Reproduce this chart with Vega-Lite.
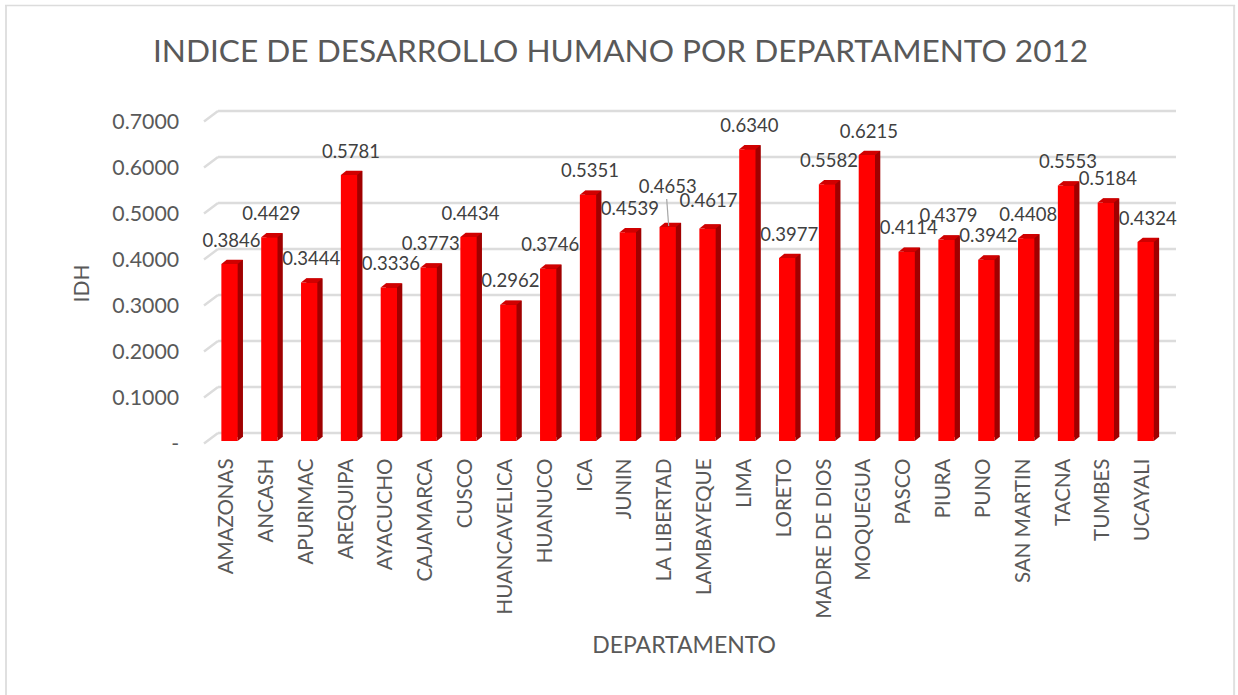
{
"$schema":"https://vega.github.io/schema/vega-lite/v6.json",
"width":956,"height":322,
"autosize":"none",
"padding":{"left":209.6,"top":119,"right":72.4,"bottom":254},
"background":"#ffffff",
"view":{"stroke":null},
"config":{"font":"Lato"},
"title":{"text":"INDICE DE DESARROLLO HUMANO POR DEPARTAMENTO 2012","anchor":"middle","frame":"group","dx":-67,"offset":-65,"fontSize":31.6,"fontWeight":"normal","color":"#595959","font":"Lato"},
"datasets":{
"idh":[
{"departamento":"AMAZONAS","idh":0.3846},{"departamento":"ANCASH","idh":0.4429},{"departamento":"APURIMAC","idh":0.3444},{"departamento":"AREQUIPA","idh":0.5781},{"departamento":"AYACUCHO","idh":0.3336},{"departamento":"CAJAMARCA","idh":0.3773},{"departamento":"CUSCO","idh":0.4434},{"departamento":"HUANCAVELICA","idh":0.2962},{"departamento":"HUANUCO","idh":0.3746},{"departamento":"ICA","idh":0.5351},{"departamento":"JUNIN","idh":0.4539},{"departamento":"LA LIBERTAD","idh":0.4653},{"departamento":"LAMBAYEQUE","idh":0.4617},{"departamento":"LIMA","idh":0.6340},{"departamento":"LORETO","idh":0.3977},{"departamento":"MADRE DE DIOS","idh":0.5582},{"departamento":"MOQUEGUA","idh":0.6215},{"departamento":"PASCO","idh":0.4114},{"departamento":"PIURA","idh":0.4379},{"departamento":"PUNO","idh":0.3942},{"departamento":"SAN MARTIN","idh":0.4408},{"departamento":"TACNA","idh":0.5553},{"departamento":"TUMBES","idh":0.5184},{"departamento":"UCAYALI","idh":0.4324}],
"ticks":[{"tick":0},{"tick":0.1},{"tick":0.2},{"tick":0.3},{"tick":0.4},{"tick":0.5},{"tick":0.6},{"tick":0.7}]
},
"data":{"name":"idh"},
"encoding":{
"x":{"field":"departamento","type":"nominal","sort":null,"scale":{"type":"band","paddingInner":0,"paddingOuter":0},
"axis":{"title":"DEPARTAMENTO","titleFont":"Lato","titleFontSize":23,"titleFontWeight":"normal","titleColor":"#595959","titlePadding":17,"titleX":474,"labelFont":"Lato","labelFontSize":20.5,"labelColor":"#595959","labelAngle":-90,"labelPadding":17,"labelOffset":-2.5,"ticks":false,"domain":false,"grid":false,"labelOverlap":false,"labelLimit":200}},
"y":{"field":"idh","type":"quantitative","scale":{"domain":[0,0.7],"nice":false},
"axis":{"title":"IDH","titleFont":"Lato","titleFontSize":21,"titleFontWeight":"normal","titleColor":"#595959","titlePadding":19,"titleY":164,"labelFont":"Lato","labelFontSize":21.3,"labelColor":"#595959","labelPadding":31,"labelOffset":3.5,"ticks":false,"domain":false,"grid":false,"values":[0,0.1,0.2,0.3,0.4,0.5,0.6,0.7],"labelExpr":"datum.value==0?'-':format(datum.value,'.4f')"}}
},
"layer":[
{"data":{"name":"ticks"},"mark":{"type":"rule","color":"#dcdcdc","strokeWidth":2.4,"xOffset":8.4,"x2Offset":10.4,"yOffset":-8,"clip":false},"encoding":{"x":{"value":0},"x2":{"value":956},"y":{"field":"tick","type":"quantitative"}}},
{"data":{"name":"ticks"},"mark":{"type":"point","shape":"M0,2.5 L14,-8","size":4,"filled":false,"stroke":"#dcdcdc","strokeWidth":2.4,"opacity":1,"xOffset":-25.5,"clip":false},"encoding":{"x":{"datum":"AMAZONAS"},"y":{"field":"tick","type":"quantitative"}}},
{"mark":{"type":"bar","width":16.3,"color":"#a00000","xOffset":5.3,"yOffset":-4,"y2Offset":-4}},
{"mark":{"type":"bar","width":16.3,"color":"#ff0000"}},
{"mark":{"type":"point","shape":"M-8.15,0 L8.15,0 L13.45,-4.3 L-2.85,-4.3 Z","size":4,"filled":true,"color":"#d00000","opacity":1,"strokeWidth":0}},
{"mark":{"type":"point","shape":"M8.15,0 L13.45,-4.3 L8.15,-4.3 Z","size":4,"filled":true,"color":"#a00000","opacity":1,"strokeWidth":0},"encoding":{"y":{"datum":0,"type":"quantitative"}}},
{"transform":[{"filter":"indexof(['LA LIBERTAD','LAMBAYEQUE'],datum.departamento)<0"}],"mark":{"type":"text","font":"Lato","fontSize":18.5,"color":"#404040","dx":2,"dy":-23.5},"encoding":{"text":{"field":"idh","type":"quantitative","format":".4f"}}},
{"transform":[{"filter":"datum.departamento==='LA LIBERTAD'"}],"mark":{"type":"text","font":"Lato","fontSize":18.5,"color":"#404040","dx":0,"dy":-40},"encoding":{"text":{"field":"idh","type":"quantitative","format":".4f"}}},
{"transform":[{"filter":"datum.departamento==='LAMBAYEQUE'"}],"mark":{"type":"text","font":"Lato","fontSize":18.5,"color":"#404040","dx":1,"dy":-28},"encoding":{"text":{"field":"idh","type":"quantitative","format":".4f"}}},
{"transform":[{"filter":"datum.departamento==='LA LIBERTAD'"}],"mark":{"type":"point","shape":"M-1,-28 L1,-1","size":4,"filled":false,"stroke":"#a6a6a6","strokeWidth":1.2,"opacity":1}},
{"data":{"values":[{"f":1}]},"mark":{"type":"rule","color":"#e0e0e0","strokeWidth":2,"clip":false},"encoding":{"x":{"value":-203.6},"y":{"value":-114},"y2":{"value":576}}},
{"data":{"values":[{"f":1}]},"mark":{"type":"rule","color":"#e0e0e0","strokeWidth":2,"clip":false},"encoding":{"x":{"value":1024.5},"y":{"value":-114},"y2":{"value":576}}},
{"data":{"values":[{"f":1}]},"mark":{"type":"rule","color":"#dcdcdc","strokeWidth":1.6,"clip":false},"encoding":{"x":{"value":-204.6},"x2":{"value":1025.5},"y":{"value":-113.5}}}
]
}
